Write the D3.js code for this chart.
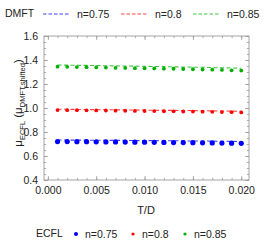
<!DOCTYPE html>
<html>
<head>
<meta charset="utf-8">
<script src="https://cdn.jsdelivr.net/npm/d3@7"></script>
<style>
  body { margin: 0; background: #fff; }
  svg { font-family: "Liberation Sans", Arial, sans-serif; }
</style>
</head>
<body>
<svg width="266" height="246"></svg>
<script>
"use strict"

// temperatures T/D
var temps = [0.001, 0.002, 0.003, 0.004, 0.005, 0.006, 0.007, 0.008, 0.009, 0.010,
             0.011, 0.012, 0.013, 0.014, 0.015, 0.016, 0.017, 0.018, 0.019, 0.020];

var names = ["n=0.75", "n=0.8", "n=0.85"];
var colors = ["#0000ff", "#ff0000", "#00b000"];

// DMFT (shifted), dashed lines
var dmft075 = [0.733, 0.733, 0.732, 0.732, 0.731, 0.731, 0.730, 0.730, 0.729, 0.728,
               0.728, 0.727, 0.727, 0.726, 0.725, 0.725, 0.724, 0.723, 0.722, 0.721];
var dmft080 = [0.989, 0.989, 0.988, 0.987, 0.986, 0.986, 0.985, 0.984, 0.983, 0.982,
               0.981, 0.980, 0.980, 0.979, 0.978, 0.977, 0.976, 0.975, 0.974, 0.973];
var dmft085 = [1.358, 1.357, 1.356, 1.355, 1.354, 1.352, 1.351, 1.350, 1.349, 1.347,
               1.346, 1.345, 1.343, 1.342, 1.340, 1.339, 1.337, 1.335, 1.333, 1.331];

// ECFL points
var ecfl075 = [0.720, 0.720, 0.719, 0.719, 0.718, 0.717, 0.717, 0.716, 0.715, 0.715,
               0.714, 0.713, 0.712, 0.712, 0.711, 0.710, 0.709, 0.708, 0.707, 0.706];
var ecfl080 = [0.983, 0.982, 0.982, 0.981, 0.980, 0.979, 0.978, 0.977, 0.976, 0.975,
               0.974, 0.973, 0.972, 0.971, 0.970, 0.969, 0.968, 0.966, 0.965, 0.963];
var ecfl085 = [1.344, 1.343, 1.341, 1.340, 1.338, 1.337, 1.335, 1.334, 1.332, 1.331,
               1.330, 1.328, 1.327, 1.325, 1.323, 1.321, 1.319, 1.317, 1.314, 1.312];

var xMajor = [0, 0.005, 0.010, 0.015, 0.020];
var yMajor = [0.4, 0.6, 0.8, 1.0, 1.2, 1.4, 1.6];

var dmft = [dmft075, dmft080, dmft085],
    ecfl = [ecfl075, ecfl080, ecfl085],
    radii = [2.6, 1.9, 1.9];

var svg = d3.select("svg");
var pLeft = 44, pRight = 249, pTop = 36, pBottom = 180;

var x = d3.scaleLinear().domain([-0.0004, 0.0208]).range([pLeft, pRight]);
var y = d3.scaleLinear().domain([0.4, 1.6]).range([pBottom, pTop]);

var frameColor = "#9a9a9a";

// frame with inward ticks on all four sides
var axBottom = d3.axisBottom(x).tickValues(xMajor).tickFormat(d3.format(".3f"))
    .tickSizeInner(-4).tickSizeOuter(0).tickPadding(7);
var axTop = d3.axisTop(x).tickValues(xMajor).tickFormat("")
    .tickSizeInner(-4).tickSizeOuter(0);
var axLeft = d3.axisLeft(y).tickValues(yMajor).tickFormat(d3.format(".1f"))
    .tickSizeInner(-4).tickSizeOuter(0).tickPadding(6);
var axRight = d3.axisRight(y).tickValues(yMajor).tickFormat("")
    .tickSizeInner(-4).tickSizeOuter(0);

var xMinor = d3.range(0, 21).map(function(i) { return i / 1000; });
var yMinor = d3.range(8, 33).map(function(i) { return i * 0.05; });
var mxB = d3.axisBottom(x).tickValues(xMinor).tickFormat("").tickSizeInner(-2.2).tickSizeOuter(0);
var mxT = d3.axisTop(x).tickValues(xMinor).tickFormat("").tickSizeInner(-2.2).tickSizeOuter(0);
var myL = d3.axisLeft(y).tickValues(yMinor).tickFormat("").tickSizeInner(-2.2).tickSizeOuter(0);
var myR = d3.axisRight(y).tickValues(yMinor).tickFormat("").tickSizeInner(-2.2).tickSizeOuter(0);

var axes = [
    [axBottom, "translate(0," + pBottom + ")"],
    [mxB, "translate(0," + pBottom + ")"],
    [axTop, "translate(0," + pTop + ")"],
    [mxT, "translate(0," + pTop + ")"],
    [axLeft, "translate(" + pLeft + ",0)"],
    [myL, "translate(" + pLeft + ",0)"],
    [axRight, "translate(" + pRight + ",0)"],
    [myR, "translate(" + pRight + ",0)"]
];
axes.forEach(function(a) {
    var g = svg.append("g").attr("transform", a[1]).call(a[0]);
    g.select(".domain").remove();
    g.selectAll("line").attr("stroke", frameColor).attr("stroke-width", 0.8);
    g.selectAll("text").attr("fill", "#222").style("font-size", "10.5px");
});

svg.append("rect")
    .attr("x", pLeft).attr("y", pTop)
    .attr("width", pRight - pLeft).attr("height", pBottom - pTop)
    .attr("fill", "none").attr("stroke", frameColor).attr("stroke-width", 0.9);

// DMFT dashed lines
var line = d3.line()
    .x(function(d) { return x(d[0]); })
    .y(function(d) { return y(d[1]); });

dmft.forEach(function(vals, k) {
    svg.append("path")
        .datum(temps.map(function(t, i) { return [t, vals[i]]; }))
        .attr("d", line)
        .attr("fill", "none")
        .attr("stroke", colors[k])
        .attr("stroke-opacity", 0.75)
        .attr("stroke-width", 1.1)
        .attr("stroke-dasharray", "4,2.5");
});

// ECFL points
ecfl.forEach(function(vals, k) {
    svg.append("g").selectAll("circle")
        .data(temps.map(function(t, i) { return [t, vals[i]]; }))
        .enter().append("circle")
        .attr("cx", function(d) { return x(d[0]); })
        .attr("cy", function(d) { return y(d[1]); })
        .attr("r", radii[k])
        .attr("fill", colors[k]);
});

// axis titles
svg.append("text")
    .attr("x", 146).attr("y", 214)
    .attr("text-anchor", "middle")
    .style("font-size", "11px").attr("fill", "#222")
    .text("T/D");

var ylab = svg.append("text")
    .attr("transform", "translate(22,103) rotate(-90)")
    .attr("text-anchor", "middle")
    .style("font-size", "11.5px").attr("fill", "#222");
ylab.append("tspan").text("\u03bc");
ylab.append("tspan").attr("dy", 2.5).style("font-size", "7.5px").text("ECFL");
ylab.append("tspan").attr("dy", -2.5).text(" (\u03bc");
ylab.append("tspan").attr("dy", 2.5).style("font-size", "7.5px").text("DMFT,shifted");
ylab.append("tspan").attr("dy", -2.5).text(")");

// top legend (DMFT)
var topLeg = svg.append("g");
topLeg.append("text").attr("x", 5).attr("y", 17)
    .style("font-size", "10.5px").attr("fill", "#222").text("DMFT");
var legX = [43, 121, 193];
names.forEach(function(nm, k) {
    topLeg.append("line")
        .attr("x1", legX[k]).attr("x2", legX[k] + 27)
        .attr("y1", 14).attr("y2", 14)
        .attr("stroke", colors[k]).attr("stroke-opacity", 0.75)
        .attr("stroke-width", 1.1)
        .attr("stroke-dasharray", "3.5,2");
    topLeg.append("text").attr("x", legX[k] + 34).attr("y", 18)
        .style("font-size", "10.5px").attr("fill", "#222").text(nm);
});

// bottom legend (ECFL)
var botLeg = svg.append("g");
botLeg.append("text").attr("x", 36).attr("y", 237)
    .style("font-size", "10.5px").attr("fill", "#222").text("ECFL");
var dotX = [76, 133, 185],
    dotR = [2, 1.6, 1.6];
names.forEach(function(nm, k) {
    botLeg.append("circle").attr("cx", dotX[k]).attr("cy", 234)
        .attr("r", dotR[k]).attr("fill", colors[k]);
    botLeg.append("text").attr("x", dotX[k] + 9).attr("y", 238)
        .style("font-size", "10.5px").attr("fill", "#222").text(nm);
});
</script>
</body>
</html>
